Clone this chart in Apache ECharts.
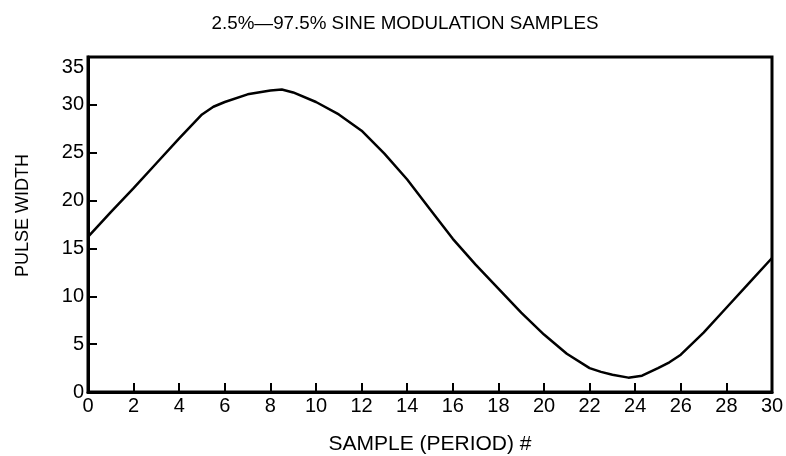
<!DOCTYPE html>
<html>
<head>
<meta charset="utf-8">
<script src="https://cdn.jsdelivr.net/npm/echarts@6/dist/echarts.min.js"></script>
<style>html,body{margin:0;padding:0;background:#fff}#c{width:786px;height:456px}</style>
</head>
<body>
<div id="c"></div>
<script>
var sampleX = [0,1,2,3,4,5,5.5,6,7,8,8.5,9,10,11,12,13,14,15,16,17,18,19,20,21,22,22.5,23,23.7,24.3,24.65,25,25.5,26,27,28,29,30];
var pulseWidth = [16.2,18.8,21.3,23.9,26.5,29.0,29.8,30.3,31.1,31.5,31.6,31.3,30.3,29.0,27.3,24.9,22.2,19.1,16.0,13.3,10.8,8.3,6.0,4.0,2.5,2.1,1.8,1.5,1.7,2.1,2.5,3.1,3.9,6.2,8.8,11.4,14.0];
var titleText = '2.5%\u201497.5% SINE MODULATION SAMPLES';
var xName = 'SAMPLE (PERIOD) #';
var yName = 'PULSE WIDTH';

var pts = sampleX.map(function(x, i){ return [x, pulseWidth[i]]; });
var font = 'Liberation Sans, Arial, Helvetica, sans-serif';
var chart = echarts.init(document.getElementById('c'), null, {renderer:'canvas'});
chart.setOption({
  animation: false,
  backgroundColor: '#fff',
  title: {
    text: titleText, left: 400, top: 9, textAlign: 'center',
    textStyle: {fontFamily: font, fontSize: 18.8, fontWeight: 'normal', color: '#000'}
  },
  grid: {left: 88, right: 14, top: 57, bottom: 64, show: true, borderColor: '#000', borderWidth: 3, containLabel: false, outerBoundsMode: 'none'},
  xAxis: {
    type: 'value', min: 0, max: 30, interval: 2,
    name: xName, nameLocation: 'middle', nameGap: 42,
    nameTextStyle: {fontFamily: font, fontSize: 21, color: '#000'},
    axisLine: {show: true, lineStyle: {color: '#000', width: 3}},
    axisTick: {show: true, inside: true, length: 9, lineStyle: {color: '#000', width: 2}},
    axisLabel: {fontFamily: font, fontSize: 20, color: '#000', margin: 4},
    splitLine: {show: false}
  },
  yAxis: {
    type: 'value', min: 0, max: 35, interval: 5,
    name: yName, nameLocation: 'middle', nameGap: 56, nameRotate: 90,
    nameTextStyle: {fontFamily: font, fontSize: 18, color: '#000', padding: [0, 0, 0, 18]},
    axisLine: {show: true, lineStyle: {color: '#000', width: 3}},
    axisTick: {show: true, inside: true, length: 9, lineStyle: {color: '#000', width: 2}},
    axisLabel: {fontFamily: font, fontSize: 20, color: '#000', margin: 4, verticalAlignMaxLabel: 'top'},
    splitLine: {show: false}
  },
  series: [{
    type: 'line', data: pts, showSymbol: false, smooth: false,
    lineStyle: {color: '#000', width: 2.5}, clip: true
  }]
});
</script>
</body>
</html>
